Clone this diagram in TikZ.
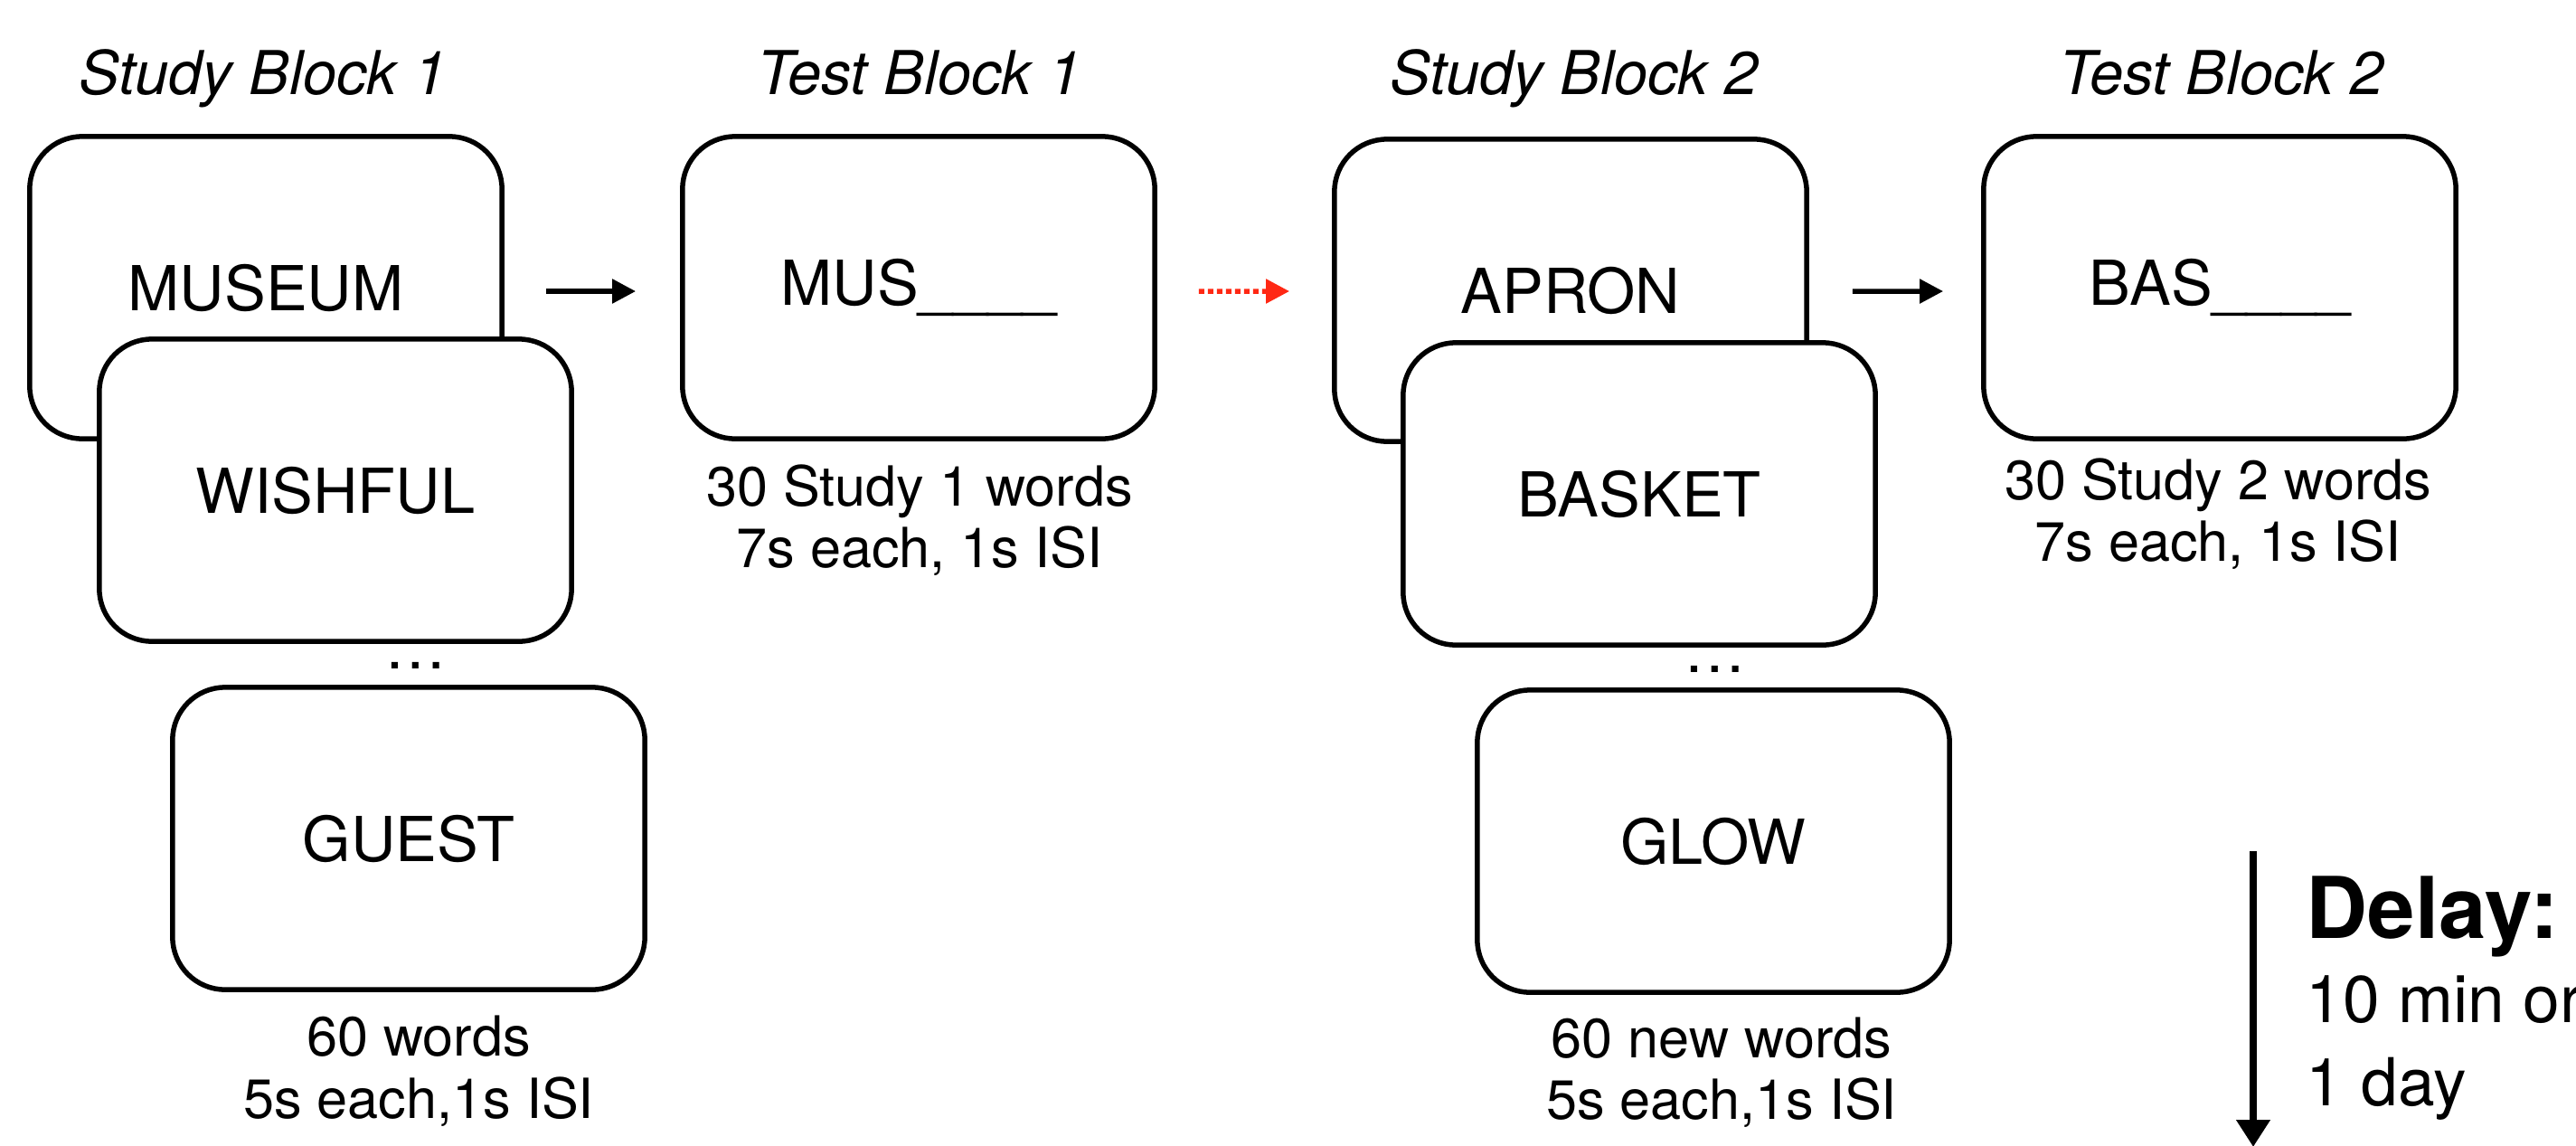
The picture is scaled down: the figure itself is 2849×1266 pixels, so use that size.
\documentclass[tikz,border=0pt]{standalone}
\usepackage{fontspec}
\setmainfont{TeX Gyre Heros}
\usetikzlibrary{arrows.meta}
\definecolor{redarr}{RGB}{255,40,20}
\begin{document}
\begin{tikzpicture}[x=0.01cm,y=-0.01cm,
  card/.style={draw, line width=0.055cm, fill=white, rounded corners=0.58cm,
    minimum width=5.22cm, minimum height=3.34cm, inner sep=0pt,
    font=\fontsize{19.5}{23}\selectfont},
  ttl/.style={anchor=base, inner sep=0pt, font=\fontsize{19}{23}\selectfont\itshape},
  capline/.style={anchor=base, inner sep=0pt, font=\fontsize{17.4}{20}\selectfont},
  ellip/.style={anchor=base, inner sep=0pt, font=\fontsize{19.5}{23}\selectfont},
  arr/.style={line width=0.055cm, -{Triangle[length=0.26cm,width=0.26cm]}},
  redarrow/.style={line width=0.055cm, draw=redarr, dash pattern=on 0.06cm off 0.04cm,
    -{Triangle[length=0.26cm,width=0.26cm,fill=redarr]}},
  delayarr/.style={line width=0.085cm, -{Triangle[length=0.3cm,width=0.36cm]}},
  delaybold/.style={anchor=base west, inner sep=0pt, font=\fontsize{26.8}{30}\selectfont\bfseries},
  delaytxt/.style={anchor=base west, inner sep=0pt, font=\fontsize{20.8}{24}\selectfont}
]
\useasboundingbox (0,0) rectangle (2849,1266);

% titles
\node[ttl] (t1) at (291,104) {Study Block 1};
\node[ttl] (t2) at (1017,104) {Test Block 1};
\node[ttl] (t3) at (1741,104) {Study Block 2};
\node[ttl] (t4) at (2457,104) {Test Block 2};

% study block 1
\node[card] (s1a) at (294,318) {MUSEUM};
\node[card] (s1b) at (371,542) {WISHFUL};
\node[ellip] (d1) at (460,739) {\dots};
\node[card] (s1c) at (452,927) {GUEST};
\node[capline] (c1a) at (463,1167) {60 words};
\node[capline] (c1b) at (463,1236) {5s each,1s ISI};

% test block 1
\node[card] (tb1) at (1016,318) {MUS\_\_\_\_};
\node[capline] (c2a) at (1017,559) {30 Study 1 words};
\node[capline] (c2b) at (1017,627) {7s each, 1s ISI};

% study block 2
\node[card] (s2a) at (1737,321) {APRON};
\node[card] (s2b) at (1813,546) {BASKET};
\node[ellip] (d2) at (1897,743) {\dots};
\node[card] (s2c) at (1895,930) {GLOW};
\node[capline] (c3a) at (1904,1169) {60 new words};
\node[capline] (c3b) at (1904,1237) {5s each,1s ISI};

% test block 2
\node[card] (tb2) at (2455,318) {BAS\_\_\_\_};
\node[capline] (c4a) at (2453,552) {30 Study 2 words};
\node[capline] (c4b) at (2453,620) {7s each, 1s ISI};

% connectors
\draw[arr, shorten <=0.46cm, shorten >=0.49cm] ([yshift=-0.04cm]s1a.east) -- ([yshift=-0.04cm]tb1.west);
\draw[redarrow, shorten <=0.46cm, shorten >=0.47cm] ([yshift=-0.04cm]tb1.east) -- ([yshift=-0.01cm]s2a.west);
\draw[arr, shorten <=0.48cm, shorten >=0.42cm] ([yshift=-0.01cm]s2a.east) -- ([yshift=-0.04cm]tb2.west);

% delay
\coordinate (dtop) at (2492,941);
\coordinate (dbot) at (2492,1268);
\draw[delayarr] (dtop) -- (dbot);
\node[delaybold] (dl1) at (2550,1037) {Delay:};
\node[delaytxt] (dl2) at (2550,1130) {10 min or};
\node[delaytxt] (dl3) at (2550,1222) {1 day};
\end{tikzpicture}
\end{document}
